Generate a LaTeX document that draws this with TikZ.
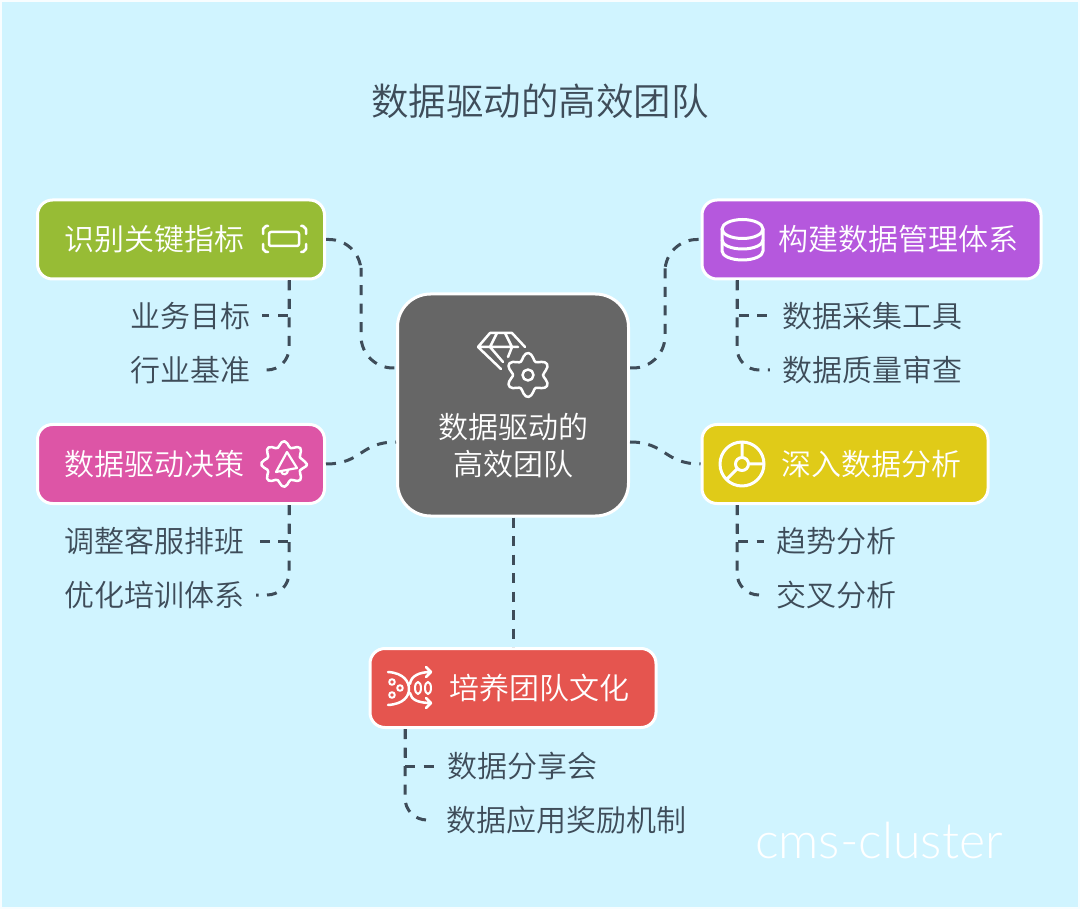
\documentclass[tikz,border=0pt]{standalone}
\usepackage{fontspec}
\setmainfont{Noto Sans CJK SC DemiLight}
\newfontfamily\markfont{Lato Light}
\definecolor{sky}{HTML}{D0F4FF}
\definecolor{ink}{HTML}{3E4C59}
\definecolor{leaf}{HTML}{97BC35}
\definecolor{violet}{HTML}{B558DD}
\definecolor{rose}{HTML}{DD55A6}
\definecolor{gold}{HTML}{E0CB18}
\definecolor{coral}{HTML}{E5554F}
\definecolor{slate}{HTML}{666666}
\tikzset{
  topicbox/.style={draw=white,line width=3pt,rounded corners=15pt,minimum height=79pt,inner sep=0pt},
  topictext/.style={text=white,font=\fontsize{30}{37}\selectfont,inner sep=0pt,anchor=west},
  subtext/.style={text=ink,font=\fontsize{30}{37}\selectfont,inner sep=12pt},
  linkline/.style={draw=ink,line width=3pt,dash pattern=on 10pt off 8.5pt},
  iconline/.style={draw=white,line width=3pt,line join=round,line cap=round},
}
\begin{document}
\begin{tikzpicture}[x=1pt,y=-1pt]
\useasboundingbox (0,0) rectangle (1080,909);
\fill[white!85!sky] (0,0) rectangle (1080,909);
\fill[sky] (2,2) rectangle (1078,907);
\node[text=ink,font=\fontsize{37.5}{44}\selectfont] (title) at (540,101) {数据驱动的高效团队};
\node[text=white,font=\markfont\fontsize{50}{54}\selectfont] (mark) at (879,841) {cms-cluster};

% boxes
\node[topicbox,fill=slate,minimum width=231pt,minimum height=222pt,rounded corners=33pt] (hub) at (513,405) {};
\node[topicbox,fill=leaf,minimum width=287pt] (metric) at (181,239.5) {};
\node[topicbox,fill=violet,minimum width=339pt] (store) at (871.5,239.5) {};
\node[topicbox,fill=rose,minimum width=287pt] (decide) at (181,464) {};
\node[topicbox,fill=gold,minimum width=286pt] (study) at (845,464) {};
\node[topicbox,fill=coral,minimum width=286pt] (culture) at (513,688) {};

% box texts
\node[text=white,font=\fontsize{30}{37}\selectfont,align=center,inner sep=0pt] (hubtext) at (513,446) {数据驱动的\\高效团队};
\node[topictext] (metrictext) at (64,239) {识别关键指标};
\node[topictext] (storetext) at (778,239) {构建数据管理体系};
\node[topictext] (decidetext) at (64,464) {数据驱动决策};
\node[topictext] (studytext) at (781,464) {深入数据分析};
\node[topictext] (culturetext) at (449,688) {培养团队文化};

% leaves
\node[subtext] (goal) at (190,316) {业务目标};
\node[subtext] (bench) at (190,370) {行业基准};
\node[subtext] (shift) at (154,541) {调整客服排班};
\node[subtext] (train) at (154,595) {优化培训体系};
\node[subtext] (collect) at (872,316) {数据采集工具};
\node[subtext] (audit) at (872,370) {数据质量审查};
\node[subtext] (trend) at (836,541) {趋势分析};
\node[subtext] (cross) at (836,595) {交叉分析};
\node[subtext] (share) at (522,766) {数据分享会};
\node[subtext] (reward) at (566,820) {数据应用奖励机制};

% hub links
\draw[linkline,rounded corners=32pt] (metric.east) -| (361,300) |- ([yshift=37pt]hub.west);
\draw[linkline,rounded corners=32pt] ([yshift=37pt]hub.east) -| (665,300) |- (store.west);
\draw[linkline] (decide.east) .. controls (362,464) and (360,442) .. ([yshift=-37pt]hub.west);
\draw[linkline] ([yshift=-37pt]hub.east) .. controls (666,442) and (664,464) .. (study.west);
\draw[linkline] (hub.south) -- (culture.north -| hub.south);

% leaf links
\coordinate (metricroot) at ([xshift=108pt]metric.south);
\coordinate (decideroot) at ([xshift=108pt]decide.south);
\coordinate (storeroot) at ([xshift=-134.5pt]store.south);
\coordinate (studyroot) at ([xshift=-108pt]study.south);
\coordinate (cultureroot) at ([xshift=-108pt]culture.south);
\foreach \root/\near/\far/\side in {metricroot/goal/bench/east,decideroot/shift/train/east,storeroot/collect/audit/west,studyroot/trend/cross/west,cultureroot/share/reward/west}{
  \draw[linkline] (\root) |- (\near.\side);
  \draw[linkline,rounded corners=22pt] (\root) |- (\far.\side);
}

% icons
\draw[iconline,line width=2.5pt] (268,226) -- (266,226) -- (263,229) -- (263,234) (263,244) -- (263,249) -- (266,252) -- (268,252)
  (301,226) -- (303,226) -- (306,229) -- (306,234) (306,244) -- (306,249) -- (303,252) -- (301,252);
\draw[iconline,line width=2.5pt,rounded corners=2pt] (269,232) rectangle (299,246);
\draw[iconline] (722,229) -- (722,251) arc[start angle=180,end angle=360,x radius=20.5,y radius=-9] -- (763,229);
\draw[iconline] (742.5,229) ellipse[x radius=20.5,y radius=9.5];
\draw[iconline] (722,240) arc[start angle=180,end angle=360,x radius=20.5,y radius=-9];
\draw[iconline,line width=2.5pt] plot[smooth cycle,tension=.7,domain=0:345,samples=48] ({284+(20+2.8*cos(8*\x))*cos(\x)},{464+(20+2.8*cos(8*\x))*sin(\x)});
\draw[iconline,line width=2.2pt] (287,452) -- (297,468) -- (276,472) -- cycle (281,471) .. controls (282,476) and (288,475) .. (288,470);
\draw[iconline] (742,464) circle[radius=22] (742,464) circle[radius=6.5] (742,442) -- (742,457.5) (748.5,464) -- (764,464) (737.5,468.5) -- (726.5,479.5);
\draw[iconline,line width=2.5pt] (388,672) .. controls (404,673) and (409,682) .. (409,689) .. controls (409,696) and (404,704) .. (388,705);
\draw[iconline,line width=2.5pt] (410,684) .. controls (411,676) and (419,672) .. (431,672) (426,667) -- (431,672) -- (426,677);
\draw[iconline,line width=2.5pt] (410,693) .. controls (411,700) and (419,703) .. (431,703) (426,698) -- (431,703) -- (426,708);
\draw[iconline,line width=2pt] (392,682) circle[radius=2.8] (400,688) circle[radius=2.8] (392,695) circle[radius=2.8];
\draw[iconline,line width=2pt] (418,688) ellipse[x radius=3,y radius=6] (428,688) ellipse[x radius=3,y radius=6];
\draw[iconline,line width=2.5pt] (501,369) -- (478,347) -- (490,333) -- (512,333) -- (525,347) (478,347) -- (518,347) (497,333) -- (490,347) -- (503,362) (505,333) -- (512,347) -- (508,357);
\fill[slate] (528,375) circle[radius=21];
\draw[iconline,line width=2.5pt] plot[smooth cycle,tension=.7,domain=0:345,samples=48] ({528+(18.5+3.5*cos(6*\x+180))*cos(\x)},{375+(18.5+3.5*cos(6*\x+180))*sin(\x)});
\draw[iconline,line width=2.5pt] (528,375) circle[radius=5.5];
\end{tikzpicture}
\end{document}
